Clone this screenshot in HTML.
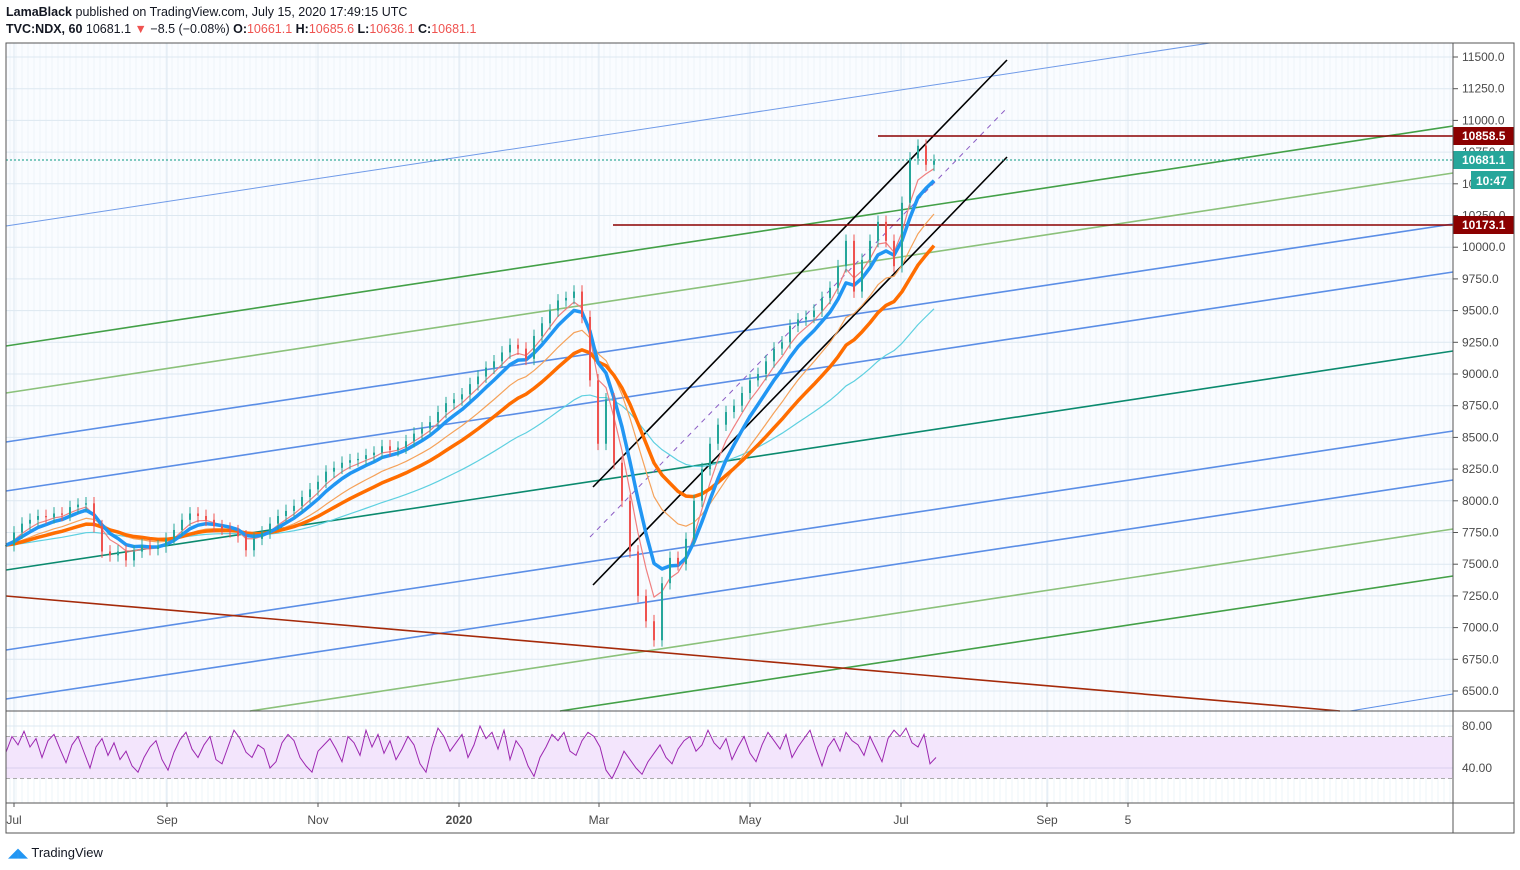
<!DOCTYPE html>
<html><head><meta charset="utf-8"><style>
body{margin:0;background:#fff;width:1520px;height:870px;overflow:hidden;font-family:"Liberation Sans",sans-serif}
.hdr{position:absolute;left:6px;font-size:12.5px;color:#131722;white-space:nowrap}
.r{color:#ef5350}
</style></head><body>
<div class="hdr" style="top:5px"><b>LamaBlack</b> published on TradingView.com, July 15, 2020 17:49:15 UTC</div>
<div class="hdr" style="top:22px"><b>TVC:NDX, 60</b> 10681.1 <span class="r">▼</span> −8.5 (−0.08%) <b>O:</b><span class="r">10661.1</span> <b>H:</b><span class="r">10685.6</span> <b>L:</b><span class="r">10636.1</span> <b>C:</b><span class="r">10681.1</span></div>
<svg id="c" width="1520" height="870" style="position:absolute;left:0;top:0"></svg>
<div style="position:absolute;left:8px;top:845px;font-size:13px;color:#131722"><span style="color:#2196f3">◢◣</span> TradingView</div>
<script>
const priceTicks=[11500,11250,11000,10750,10500,10250,10000,9750,9500,9250,9000,8750,8500,8250,8000,7750,7500,7250,7000,6750,6500];
const rsiTicks=[80,40];
const timeLabels=["Jul","Sep","Nov","2020","Mar","May","Jul","Sep","5"];
const timeX=[14,167,318,459,599,750,901,1047,1128];
const closes=[7650,7750,7820,7850,7880,7870,7900,7890,7950,7970,7980,7800,7600,7570,7600,7530,7600,7650,7620,7640,7700,7770,7850,7900,7880,7850,7800,7780,7760,7720,7610,7700,7750,7820,7880,7920,7960,8030,8090,8150,8230,8260,8300,8320,8330,8360,8380,8430,8400,8420,8470,8530,8570,8620,8700,8770,8800,8840,8920,8980,9050,9100,9170,9230,9200,9120,9300,9400,9500,9580,9600,9650,9450,8950,8450,8800,8300,8000,7600,7250,7050,6900,7350,7550,7500,7700,8000,8250,8450,8600,8700,8750,8850,8950,9000,9100,9200,9250,9380,9430,9450,9500,9600,9680,9850,10050,9650,9900,10050,10200,10050,9850,10350,10700,10800,10650,10681];
const rsi=[55,70,62,75,60,68,50,66,72,58,45,62,70,55,40,60,68,52,64,48,56,42,36,50,60,66,48,38,55,67,74,58,50,62,70,48,44,60,76,68,55,50,62,58,40,46,64,72,66,50,42,36,56,62,68,58,46,70,64,52,76,60,72,54,66,48,58,70,62,44,36,60,78,70,56,64,72,50,62,80,68,74,58,76,48,66,58,42,32,50,60,72,66,74,56,52,66,74,70,60,38,30,42,56,48,40,34,46,54,62,50,44,58,66,70,56,62,76,64,58,68,48,60,70,54,46,62,74,66,58,72,50,60,68,76,58,42,60,68,56,74,66,62,52,70,58,46,68,76,70,78,64,60,72,44,50];
const lines=[
[6,226,1210,43,"#6f9ae8",1,""],[6,346,1453,126,"#43a047",1.6,""],[6,393,1453,173,"#8bc17a",1.6,""],
[6,442,1453,224,"#5b8ee6",1.6,""],[6,491,1453,272,"#5b8ee6",1.6,""],[6,570,1453,351,"#0b8a6e",1.6,""],
[6,650,1453,431,"#5b8ee6",1.6,""],[6,699,1453,480,"#5b8ee6",1.6,""],[250,711,1453,529,"#8bc17a",1.6,""],
[560,711,1453,576,"#43a047",1.6,""],[1350,711,1453,694,"#5b8ee6",1,""],[6,596,1340,711,"#a52a0a",1.6,""],
[593,487,1007,60,"#000",1.6,""],[593,585,1007,157,"#000",1.6,""],[590,537,1008,107,"#8b5cc4",1,"5,5"],
[878,136,1453,136,"#8b0000",1.6,""],[613,225,1453,225,"#8b0000",1.6,""],[6,160,1453,160,"#089981",1,"2,2"]];
const S=document.getElementById('c');const NS="http://www.w3.org/2000/svg";
function mk(t,a,p){const e=document.createElementNS(NS,t);for(const k in a)e.setAttribute(k,a[k]);(p||S).appendChild(e);return e;}
const py=p=>57+(11500-p)*0.1268, ry=v=>726+(80-v)*1.05, bx=i=>6+8*i, rx=i=>6+6*i;
let e;
e=mk('rect',{x:6,y:43,width:1447,height:668,fill:"#fafcff"});
for(let x=10;x<1453;x+=6)mk('line',{x1:x,y1:43,x2:x,y2:803,stroke:"#eef4fa","stroke-width":1});
timeX.forEach(x=>mk('line',{x1:x,y1:43,x2:x,y2:803,stroke:"#dde8f1"}));
priceTicks.forEach(p=>{mk('line',{x1:6,y1:py(p),x2:1453,y2:py(p),stroke:"#dde8f1"});mk('line',{x1:1453,y1:py(p),x2:1458,y2:py(p),stroke:"#555"});
 e=mk('text',{x:1462,y:py(p)+4,"font-size":12,fill:"#4a4a4a"});e.textContent=p.toFixed(1);});
e=mk('rect',{x:6,y:ry(70),width:1447,height:ry(30)-ry(70),fill:"#f3e5fc"});
[70,30].forEach(v=>mk('line',{x1:6,y1:ry(v),x2:1453,y2:ry(v),stroke:"#aaa","stroke-dasharray":"4,3"}));
mk('line',{x1:6,y1:ry(80),x2:1453,y2:ry(80),stroke:"#dde8f1"});mk('line',{x1:6,y1:ry(40),x2:1453,y2:ry(40),stroke:"#d8d0ee"});
rsiTicks.forEach(v=>{e=mk('text',{x:1462,y:ry(v)+4,"font-size":12,fill:"#4a4a4a"});e.textContent=v.toFixed(2);});
e=mk('polyline',{points:rsi.map((v,i)=>rx(i)+","+ry(v)).join(" "),fill:"none",stroke:"#9c27b0","stroke-width":1});
lines.forEach(l=>{e=mk('line',{x1:l[0],y1:l[1],x2:l[2],y2:l[3],stroke:l[4],"stroke-width":l[5],"stroke-dasharray":l[6]});});
function ema(a){const o=[];let m=closes[0];closes.forEach(c=>{m=m+a*(c-m);o.push(m);});return o;}
[[0.05,"#5ed0e0",1.2],[0.15,"#f5a25a",1.2],[0.4,"#f08080",1.2],[0.1,"#ff6d00",3.5],[0.28,"#2196f3",3.5]].forEach(s=>{
 e=mk('polyline',{points:ema(s[0]).map((v,i)=>bx(i)+","+py(v)).join(" "),fill:"none",stroke:s[1],"stroke-width":s[2],"stroke-linejoin":"round"});});
closes.forEach((c,i)=>{const o=i?closes[i-1]:c;const col=c>=o?"#26a69a":"#ef5350";const x=bx(i);
 mk('line',{x1:x,y1:py(Math.max(o,c)+50),x2:x,y2:py(Math.min(o,c)-50),stroke:col,"stroke-width":1});
 e=mk('rect',{x:x-1,y:py(Math.max(o,c)),width:2,height:Math.max(1,Math.abs(py(o)-py(c))),fill:col});
 });
[[136,"10858.5","#8b0000"],[160,"10681.1","#26a69a"],[225,"10173.1","#8b0000"]].forEach(l=>{
 e=mk('rect',{x:1453,y:l[0]-9,width:61,height:18,fill:l[2]});
 const t=mk('text',{x:1462,y:l[0]+4,"font-size":12,"font-weight":"bold",fill:"#fff"});t.textContent=l[1];});
e=mk('rect',{x:1471,y:171,width:43,height:18,fill:"#26a69a"});
e=mk('text',{x:1476,y:185,"font-size":12,"font-weight":"bold",fill:"#fff"});e.textContent="10:47";
mk('rect',{x:6,y:43,width:1508,height:790,fill:"none",stroke:"#555"});
mk('line',{x1:1453,y1:43,x2:1453,y2:833,stroke:"#555"});
mk('line',{x1:6,y1:711,x2:1514,y2:711,stroke:"#555"});mk('line',{x1:6,y1:803,x2:1514,y2:803,stroke:"#555"});
timeLabels.forEach((t,i)=>{mk('line',{x1:timeX[i],y1:803,x2:timeX[i],y2:807,stroke:"#555"});
 e=mk('text',{x:timeX[i],y:824,"font-size":12,fill:"#4a4a4a","text-anchor":"middle","font-weight":t=="2020"?"bold":"normal"});e.textContent=t;});
</script></body></html>
